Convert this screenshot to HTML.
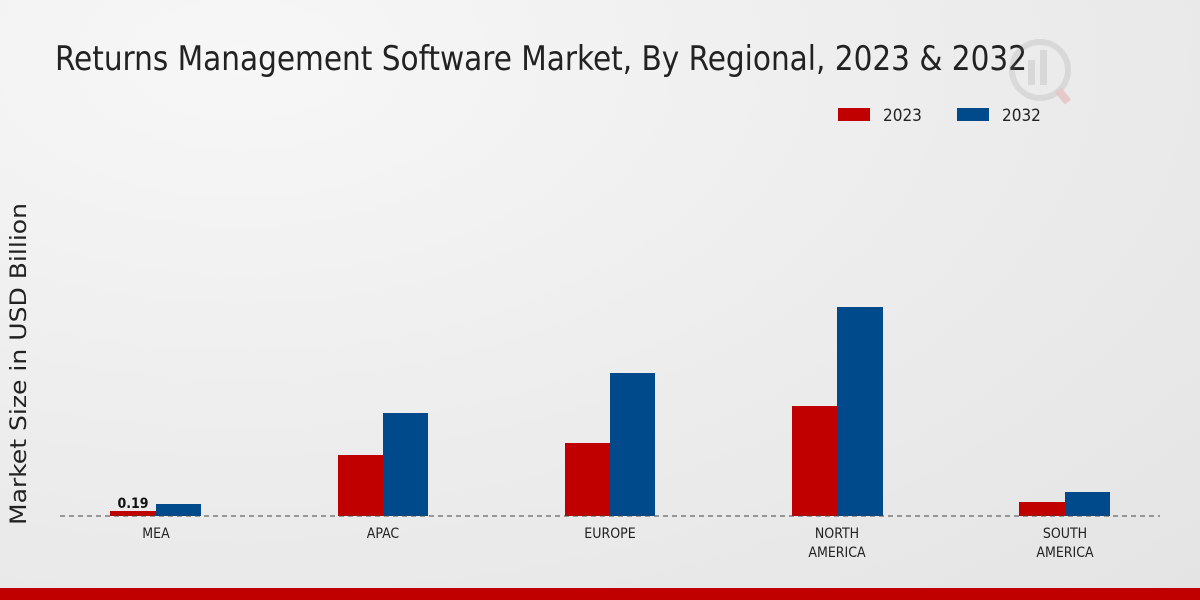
<!DOCTYPE html>
<html><head><meta charset="utf-8"><style>
html,body{margin:0;padding:0}
body{width:1200px;height:600px;overflow:hidden;background:radial-gradient(ellipse at 20% 10%,#f7f7f7 0%,#ececec 55%,#e4e4e4 100%);font-family:"DejaVu Sans Condensed","DejaVu Sans",sans-serif;}
text{font-family:"DejaVu Sans Condensed","DejaVu Sans",sans-serif}
</style></head><body>
<svg width="1200" height="600" xmlns="http://www.w3.org/2000/svg" style="position:absolute;left:0;top:0">
<text x="55" y="70" font-size="34" fill="#222" textLength="972" lengthAdjust="spacingAndGlyphs">Returns Management Software Market, By Regional, 2023 &amp; 2032</text>
<g opacity="0.18" fill="#888">
<circle cx="1040" cy="70" r="28" fill="none" stroke="#888" stroke-width="6"/>
<rect x="1028" y="60" width="7" height="25"/><rect x="1040" y="50" width="7" height="35"/>
<line x1="1058" y1="90" x2="1068" y2="102" stroke="#c33" stroke-width="8"/>
</g>
<rect x="838" y="108" width="32" height="13" fill="#c00000"/>
<text x="883" y="121" font-size="17" fill="#222">2023</text>
<rect x="957" y="108" width="32" height="13" fill="#004a8c"/>
<text x="1002" y="121" font-size="17" fill="#222">2032</text>
<text transform="translate(26,364) rotate(-90)" text-anchor="middle" font-size="22" fill="#222" textLength="322" lengthAdjust="spacingAndGlyphs" font-family="DejaVu Sans, sans-serif">Market Size in USD Billion</text>
<g fill="#c00000">
<rect x="110" y="511" width="46" height="5"/>
<rect x="338" y="455" width="45" height="61"/>
<rect x="565" y="443" width="45" height="73"/>
<rect x="792" y="406" width="45" height="110"/>
<rect x="1019" y="502" width="46" height="14"/>
</g>
<g fill="#004a8c">
<rect x="156" y="504" width="45" height="12"/>
<rect x="383" y="413" width="45" height="103"/>
<rect x="610" y="373" width="45" height="143"/>
<rect x="837" y="307" width="46" height="209"/>
<rect x="1065" y="492" width="45" height="24"/>
</g>
<line x1="60" y1="516" x2="1160" y2="516" stroke="#444" stroke-width="1" stroke-dasharray="5,4"/>
<text x="133" y="508" text-anchor="middle" font-size="14" font-weight="bold" fill="#111">0.19</text>
<g font-size="14" fill="#222" text-anchor="middle">
<text x="156" y="538">MEA</text>
<text x="383" y="538">APAC</text>
<text x="610" y="538">EUROPE</text>
<text x="837" y="538">NORTH</text><text x="837" y="557">AMERICA</text>
<text x="1065" y="538">SOUTH</text><text x="1065" y="557">AMERICA</text>
</g>
<rect x="0" y="588" width="1200" height="12" fill="#c00000"/>
</svg>
</body></html>
